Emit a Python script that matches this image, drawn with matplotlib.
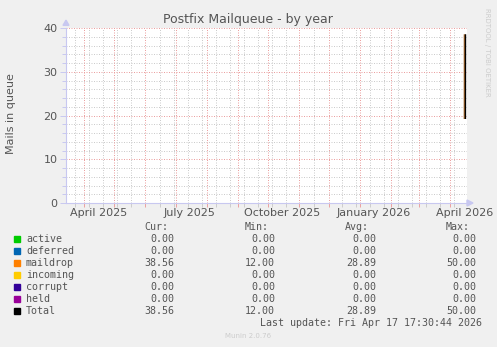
import datetime as dt
import matplotlib
matplotlib.use("Agg")
import matplotlib.pyplot as plt
import matplotlib.dates as mdates
from matplotlib.patches import Rectangle, Polygon
import pandas as pd

# ---- data ----
title = "Postfix Mailqueue - by year"
ylabel = "Mails in queue"
end_time = dt.datetime(2026, 4, 17, 17, 30, 44)
span_days = 400
yticks = [0, 10, 20, 30, 40]
xlabels = ["April 2025", "July 2025", "October 2025", "January 2026", "April 2026"]
xlabel_months = ["2025-04-01", "2025-07-01", "2025-10-01", "2026-01-01", "2026-04-01"]

series_names = ["active", "deferred", "maildrop", "incoming", "corrupt", "held", "Total"]
series_colors = ["#00CC00", "#0066B3", "#FF8000", "#FFCC00", "#330099", "#990099", "#000000"]
cur_vals = ["0.00", "0.00", "38.56", "0.00", "0.00", "0.00", "38.56"]
min_vals = ["0.00", "0.00", "12.00", "0.00", "0.00", "0.00", "12.00"]
avg_vals = ["0.00", "0.00", "28.89", "0.00", "0.00", "0.00", "28.89"]
max_vals = ["0.00", "0.00", "50.00", "0.00", "0.00", "0.00", "50.00"]

# visible samples (days before end of graph)
sample_days_before_end = [1.55, 1.5]
maildrop_values = [19.2, 38.56]
total_values = [19.2, 38.56]

last_update = "Last update: Fri Apr 17 17:30:44 2026"
munin_version = "Munin 2.0.76"
rrd_credit = "RRDTOOL / TOBI OETIKER"

# ---- figure ----
W, H = 497, 347
fig = plt.figure(figsize=(W / 100, H / 100), dpi=100, facecolor="#f0f0f0")
L, R, T, B = 66, 467, 28, 203
ax = fig.add_axes([L / W, 1 - B / H, (R - L) / W, (B - T) / H])
ax.set_facecolor("white")

start_time = end_time - dt.timedelta(days=span_days)
x0 = mdates.date2num(start_time)
x1 = mdates.date2num(end_time)
ax.set_xlim(x0, x1)
ax.set_ylim(0, 40)

text_col = "#555555"
axis_col = "#c8c8f0"
minor_col = "#cccccc"
major_col = "#eba0a0"
dash = (0, (1, 1.5))

# horizontal grid
for v in range(0, 41, 2):
    if v % 10 == 0:
        continue
    ax.axhline(v, color=minor_col, lw=0.72, ls=dash, zorder=1)
for v in yticks[1:]:
    ax.axhline(v, color=major_col, lw=0.72, ls=dash, zorder=2)

# vertical grid
month_dates = pd.date_range("2025-04-01", end_time, freq="MS")
minor_dates = [d for d in pd.date_range("2025-03-23", end_time, freq="14D")
               if min(abs((d - m).days) for m in month_dates) > 1]
for d in minor_dates:
    ax.axvline(mdates.date2num(d.to_pydatetime()), color=minor_col, lw=0.72, ls=dash, zorder=1)
for d in month_dates:
    ax.axvline(mdates.date2num(d.to_pydatetime()), color=major_col, lw=0.72, ls=dash, zorder=2)

# ticks
ax.set_yticks(yticks)
ax.set_yticks(range(0, 41, 2), minor=True)
ax.tick_params(axis="y", which="major", length=4, width=0.7, color=axis_col,
               labelsize=8, labelcolor=text_col, pad=2)
ax.tick_params(axis="y", which="minor", length=3, width=0.7, color=axis_col)
ax.set_xticks([mdates.date2num(d.to_pydatetime()) for d in month_dates])
ax.set_xticks([mdates.date2num(d.to_pydatetime()) for d in minor_dates], minor=True)
ax.tick_params(axis="x", which="major", length=3, width=0.7, color=major_col, labelbottom=False)
ax.tick_params(axis="x", which="minor", length=3, width=0.7, color=minor_col)

for sp in ["top", "right"]:
    ax.spines[sp].set_visible(False)
for sp in ["left", "bottom"]:
    ax.spines[sp].set_color(axis_col)
    ax.spines[sp].set_linewidth(0.8)

# arrows
ax.add_patch(Polygon([(-3 / (R - L), 1.015), (3 / (R - L), 1.015), (0, 1.045)],
                     closed=True, transform=ax.transAxes, clip_on=False,
                     color=axis_col, zorder=5))
ax.add_patch(Polygon([(1.0, 3 / (B - T)), (1.0, -3 / (B - T)), (1.015, 0)],
                     closed=True, transform=ax.transAxes, clip_on=False,
                     color=axis_col, zorder=5))

# x labels
for lab, m in zip(xlabels, xlabel_months):
    xd = mdates.date2num((pd.Timestamp(m) + pd.Timedelta(days=14)).to_pydatetime())
    ax.text(xd, -0.03, lab, transform=ax.get_xaxis_transform(), ha="center", va="top",
            fontsize=8, color=text_col)

# data
xs = [mdates.date2num(end_time - dt.timedelta(days=d)) for d in sample_days_before_end]
ax.plot([x - 0.8 for x in xs], maildrop_values, color="#a0642a", lw=1.4, zorder=6,
        solid_capstyle="butt")
ax.plot(xs, total_values, color=series_colors[6], lw=1.0, zorder=7, solid_capstyle="butt")

# title and labels
fig.text(248 / W, 1 - 19 / H, title, ha="center", va="center", fontsize=9, color=text_col)
fig.text(11 / W, 1 - 114 / H, ylabel, ha="center", va="center", rotation=90,
         fontsize=8, color=text_col)
fig.text(487 / W, 1 - 52 / H, rrd_credit, ha="center", va="center", rotation=270,
         fontsize=5, color="#cccccc")

# legend
mono = "DejaVu Sans Mono"
fs = 7.2
hdr_y = 227
row_y0 = 239
row_dy = 12
cols = [("Cur:", 168, cur_vals, 174), ("Min:", 269, min_vals, 275),
        ("Avg:", 369, avg_vals, 376), ("Max:", 470, max_vals, 476)]
for h, hx, vals, vx in cols:
    fig.text(hx / W, 1 - hdr_y / H, h, ha="right", va="center", fontsize=fs,
             family=mono, color=text_col)
    for i, v in enumerate(vals):
        fig.text(vx / W, 1 - (row_y0 + i * row_dy) / H, v, ha="right", va="center",
                 fontsize=fs, family=mono, color=text_col)
for i, (n, c) in enumerate(zip(series_names, series_colors)):
    yc = row_y0 + i * row_dy
    fig.patches.append(Rectangle((14 / W, 1 - (yc + 3) / H), 6 / W, 6 / H,
                                 transform=fig.transFigure, color=c))
    fig.text(26 / W, 1 - yc / H, n, ha="left", va="center", fontsize=fs,
             family=mono, color=text_col)

fig.text(482 / W, 1 - 323 / H, last_update, ha="right", va="center", fontsize=fs,
         family=mono, color=text_col)
fig.text(248 / W, 1 - 336 / H, munin_version, ha="center", va="center", fontsize=5,
         color="#cccccc")

fig.savefig("out.png", dpi=100, facecolor=fig.get_facecolor())
